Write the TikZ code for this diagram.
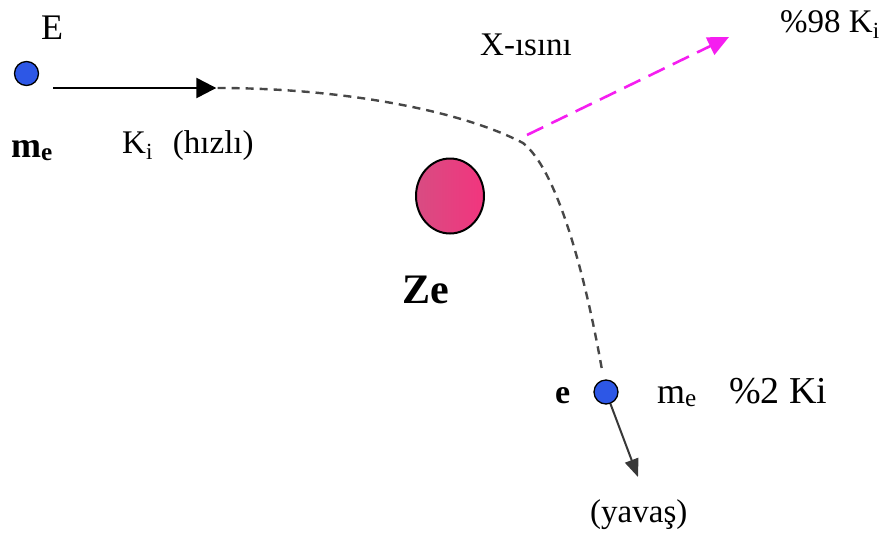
\documentclass[tikz,border=0pt]{standalone}
\usepackage{fontspec}
\setmainfont{Liberation Serif}
\usetikzlibrary{arrows.meta,shapes.geometric}
\definecolor{eblue}{HTML}{2D57E6}
\definecolor{zpinkL}{HTML}{D84C82}
\definecolor{zpinkR}{HTML}{F2357E}
\definecolor{xmag}{HTML}{F51EF0}
\tikzset{
  electron/.style={circle,draw=black,line width=1.3pt,fill=eblue,minimum size=24pt,inner sep=0pt},
  lbl/.style={inner sep=0pt,anchor=base west},
  trail/.style={dash pattern=on 8pt off 6pt,line width=2.4pt,draw=black!72},
}
\begin{document}
\begin{tikzpicture}[x=1pt,y=-1pt]
\useasboundingbox (0,0) rectangle (883,541);
\node[electron] (e1) at (26.5,73.5) {};
\node[lbl,font=\fontsize{36}{40}\selectfont] (E) at (41,39) {E};
\node[lbl,font=\bfseries\fontsize{36}{40}\selectfont] (me1) at (11,157) {m\textsubscript{e}};
\coordinate (a1s) at (53,88);
\node[inner sep=0pt] (a1e) at (217,88) {};
\draw[line width=2.4pt,-{Triangle[length=20pt,width=20pt]}] (a1s) -- (a1e);
\node[lbl,font=\fontsize{33}{36}\selectfont] (ki) at (122,153) {K\textsubscript{i}\hspace{20pt}(hızlı)};
\coordinate (bend) at (523,143);
\node[electron] (e2) at (606,392) {};
\coordinate (tail) at (602,370);
\draw[trail] (a1e) .. controls (340,88) and (460,110) .. (bend)
  .. controls (560,172) and (588,290) .. (tail);
\node[ellipse,draw=black,line width=2pt,left color=zpinkL,right color=zpinkR,minimum width=68pt,minimum height=75pt,inner sep=0pt] (Z) at (450,196) {};
\node[lbl,font=\bfseries\fontsize{42}{46}\selectfont] (Ze) at (402,303) {Ze};
\node[lbl,font=\fontsize{33}{36}\selectfont] (X) at (480,55) {X-ısını};
\coordinate (xs) at (527,135);
\coordinate (xend) at (729,37);
\draw[xmag,line width=2.6pt,dash pattern=on 18pt off 9pt,-{Triangle[length=21pt,width=19pt]}] (xs) -- (xend);
\node[lbl,font=\fontsize{33}{36}\selectfont] (k98) at (780,32) {\%98 K\textsubscript{i}};
\node[lbl,font=\bfseries\fontsize{34}{38}\selectfont] (elab) at (555,403) {e};
\node[lbl,font=\fontsize{36}{40}\selectfont] (me2) at (657,403) {m\textsubscript{e}};
\node[lbl,font=\fontsize{38}{42}\selectfont] (k2) at (729,403) {\%2 Ki};
\coordinate (slow) at (638,477);
\draw[line width=2pt,draw=black!78,-{Triangle[length=18pt,width=14pt]}] (e2) -- (slow);
\node[lbl,font=\fontsize{33}{36}\selectfont] (yv) at (590,522) {(yavaş)};
\end{tikzpicture}
\end{document}
